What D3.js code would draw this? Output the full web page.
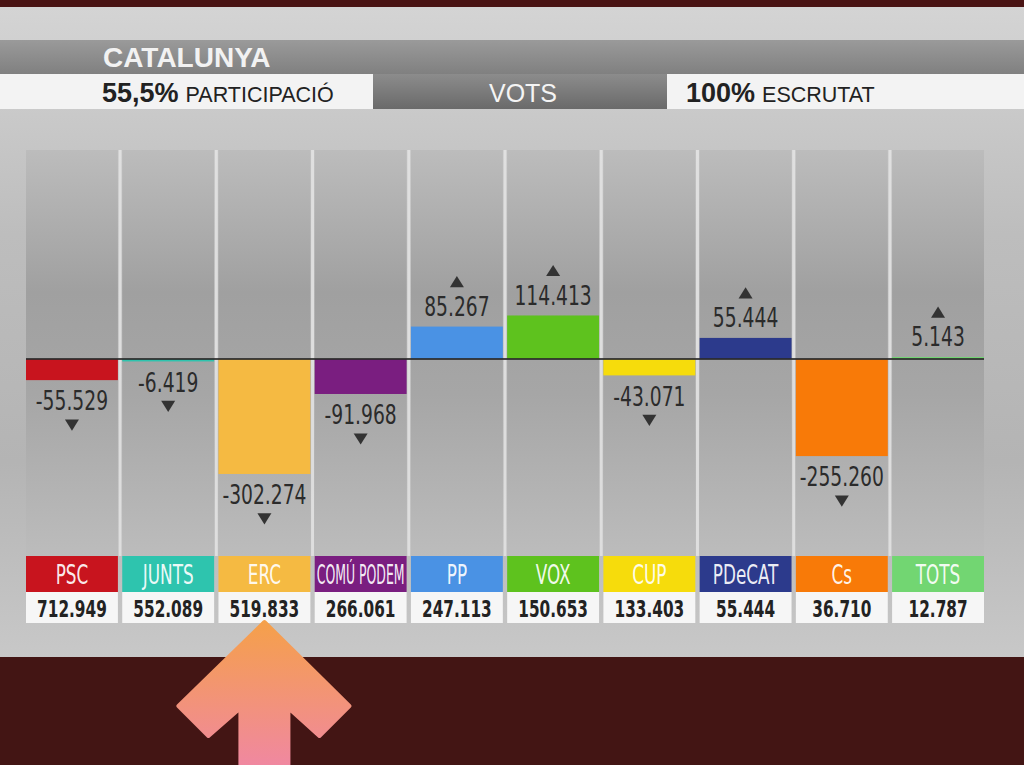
<!DOCTYPE html>
<html><head><meta charset="utf-8">
<script src="https://cdn.jsdelivr.net/npm/d3@7"></script>
<style>html,body{margin:0;padding:0;background:#431514;overflow:hidden}svg{display:block}</style>
</head><body>
<svg id="c" width="1024" height="765"></svg>
<script>
const parties = ["PSC","JUNTS","ERC","COMÚ PODEM","PP","VOX","CUP","PDeCAT","Cs","TOTS"];
const changes = [-55529,-6419,-302274,-91968,85267,114413,-43071,55444,-255260,5143];
const votes = [712949,552089,519833,266061,247113,150653,133403,55444,36710,12787];
const colors = ["#c8141e","#2ec4ae","#f5ba42","#7a1e80","#4a92e4","#5ec21e","#f6dc0c","#2c3a8c","#f87a08","#72d672"];
const region = "CATALUNYA";
const participation = "55,5%", participationLabel = "PARTICIPACIÓ";
const scrutiny = "100%", scrutinyLabel = "ESCRUTAT";
const centerLabel = "VOTS";
const highlight = "ERC";

const fmt = v => {
  const s = Math.abs(v).toString();
  const parts = [];
  for (let i = s.length; i > 0; i -= 3) parts.unshift(s.slice(Math.max(0,i-3), i));
  return (v < 0 ? "-" : "") + parts.join(".");
};

const svg = d3.select("#c");
const defs = svg.append("defs");
function lg(id, stops, vertical=true){
  const g = defs.append("linearGradient").attr("id", id)
    .attr("x1",0).attr("y1",0).attr("x2", vertical?0:1).attr("y2", vertical?1:0);
  stops.forEach(([o,c]) => g.append("stop").attr("offset",o).attr("stop-color",c));
}
lg("panel", [[0,"#d4d4d4"],[0.35,"#bdbdbd"],[0.7,"#b4b4b4"],[1,"#c8c8c8"]]);
lg("col", [[0,"#bcbcbc"],[0.35,"#a0a0a0"],[0.6,"#a6a6a6"],[1,"#bcbcbc"]]);
lg("band", [[0,"#9a9a9a"],[1,"#808080"]]);
lg("mid", [[0,"#8c8c8c"],[1,"#6a6a6a"]]);
lg("arrow", [[0,"#f5a04a"],[1,"#f088a0"]]);

const W = 1024;
const hFont = "Liberation Sans, Arial, sans-serif";
svg.append("rect").attr("x",0).attr("y",0).attr("width",W).attr("height",765).attr("fill","#431514");
svg.append("rect").attr("x",0).attr("y",7).attr("width",W).attr("height",650).attr("fill","url(#panel)");

// header
svg.append("rect").attr("x",0).attr("y",40).attr("width",W).attr("height",34).attr("fill","url(#band)");
svg.append("text").attr("x",103).attr("y",67).text(region)
  .attr("font-family",hFont).attr("font-weight","bold")
  .attr("font-size",28).attr("fill","#f2f2f2");
svg.append("rect").attr("x",0).attr("y",74).attr("width",373).attr("height",35).attr("fill","#f3f3f3");
svg.append("rect").attr("x",373).attr("y",74).attr("width",294).attr("height",35).attr("fill","url(#mid)");
svg.append("rect").attr("x",667).attr("y",74).attr("width",W-667).attr("height",35).attr("fill","#f3f3f3");
const t1 = svg.append("text").attr("x",102).attr("y",102).attr("font-family",hFont).attr("fill","#222");
t1.append("tspan").attr("font-weight","bold").attr("font-size",27).text(participation);
t1.append("tspan").attr("font-size",21.5).attr("dx",7).text(participationLabel);
svg.append("text").attr("x",523).attr("y",102).attr("text-anchor","middle").text(centerLabel)
  .attr("font-family",hFont).attr("font-size",25).attr("fill","#f4f4f4");
const t2 = svg.append("text").attr("x",686).attr("y",102).attr("font-family",hFont).attr("fill","#222");
t2.append("tspan").attr("font-weight","bold").attr("font-size",27).text(scrutiny);
t2.append("tspan").attr("font-size",21.5).attr("dx",7).text(scrutinyLabel);

// scales
const x = d3.scaleBand().domain(parties).range([26, 984]).paddingInner(0.045).paddingOuter(0);
const y = d3.scaleLinear().domain([-300000, 300000]).range([473.1, 244.9]);
const bw = x.bandwidth();
const data = parties.map((p,i) => ({p, c: changes[i], v: votes[i], col: colors[i]}));

// column strips
const colTop = 150, colBottom = 556;
svg.append("g").selectAll("rect").data(data).join("rect")
  .attr("x", d => x(d.p)).attr("y", colTop).attr("width", bw).attr("height", colBottom-colTop)
  .attr("fill","url(#col)");
svg.append("g").selectAll("line").data(parties.slice(1)).join("line")
  .attr("x1", p => x(p) - (x.step()-bw)/2).attr("x2", p => x(p) - (x.step()-bw)/2)
  .attr("y1", colTop).attr("y2", colBottom)
  .attr("stroke","#e4e4e4").attr("stroke-width",3).attr("stroke-opacity",0.85);

// bars
svg.append("g").selectAll("rect").data(data).join("rect")
  .attr("x", d => x(d.p)).attr("width", bw)
  .attr("y", d => Math.min(y(0), y(d.c)))
  .attr("height", d => Math.max(2, Math.abs(y(d.c) - y(0))))
  .attr("fill", d => d.col);
svg.append("line").attr("x1", x.range()[0]).attr("x2", x.range()[1])
  .attr("y1", y(0)).attr("y2", y(0)).attr("stroke","#2a2a2a").attr("stroke-width",2).attr("stroke-opacity",0.85);

// condensed text helper
const cFont = "DejaVu Sans Condensed, DejaVu Sans, sans-serif";
function ctext(g, cx, cy, str, size, sx, opts={}) {
  const t = g.append("g").attr("transform", `translate(${cx},${cy}) scale(${sx},1)`)
    .append("text").attr("text-anchor","middle").attr("dy","0.36em")
    .attr("font-family", cFont).attr("font-size", size).text(str);
  Object.entries(opts).forEach(([k,v]) => t.attr(k,v));
  return t;
}

const lab = svg.append("g");
data.forEach(d => {
  const cx = x(d.p) + bw/2;
  const end = y(d.c);
  const pos = d.c >= 0;
  const ty = pos ? end - 20 : end + 21;
  ctext(lab, cx, ty, fmt(d.c), 26, 0.8, {fill:"#2b2b2b"});
  const tri = pos ? end - 45 : end + 45;
  const s = 7;
  const path = pos
    ? `M${cx-s},${tri+s*0.8} L${cx+s},${tri+s*0.8} L${cx},${tri-s*0.8} Z`
    : `M${cx-s},${tri-s*0.8} L${cx+s},${tri-s*0.8} L${cx},${tri+s*0.8} Z`;
  lab.append("path").attr("d", path).attr("fill","#333");
});

// legend boxes
const leg = svg.append("g");
const lTop = 556, lH = 36, vH = 31;
data.forEach(d => {
  const x0 = x(d.p), cx = x0 + bw/2;
  leg.append("rect").attr("x", x0).attr("y", lTop).attr("width", bw).attr("height", lH).attr("fill", d.col);
  leg.append("rect").attr("x", x0).attr("y", lTop+lH).attr("width", bw).attr("height", vH).attr("fill","#f6f6f6");
  const nt = ctext(leg, cx, lTop + lH/2 + 1, d.p, 26, 0.72, {fill:"#ffffff","fill-opacity":0.93});
  const w = nt.node().getComputedTextLength() * 0.72;
  if (w > bw - 4) nt.attr("textLength", (bw - 4)/0.72).attr("lengthAdjust","spacingAndGlyphs");
  ctext(leg, cx, lTop + lH + vH/2 + 1, fmt(d.v), 23, 0.74, {fill:"#222","font-weight":"bold"});
});

svg.append("rect").attr("x",0).attr("y",0).attr("width",W).attr("height",7).attr("fill","#4a1414");
svg.append("rect").attr("x",0).attr("y",657).attr("width",W).attr("height",108).attr("fill","#431514");

// highlight arrow pointing to ERC
const ax = x(highlight) + bw/2;
const tipY = lTop + lH + vH - 1;
const ap = d3.path();
ap.moveTo(ax, tipY);
ap.lineTo(ax + 85, tipY + 84);
ap.lineTo(ax + 55, tipY + 114);
ap.lineTo(ax + 24, tipY + 86);
ap.lineTo(ax + 24, 765);
ap.lineTo(ax - 24, 765);
ap.lineTo(ax - 24, tipY + 86);
ap.lineTo(ax - 56, tipY + 114);
ap.lineTo(ax - 86, tipY + 84);
ap.closePath();
svg.append("path").attr("d", ap.toString()).attr("fill","url(#arrow)")
  .attr("stroke","url(#arrow)").attr("stroke-width",4).attr("stroke-linejoin","round");
</script>
</body></html>
